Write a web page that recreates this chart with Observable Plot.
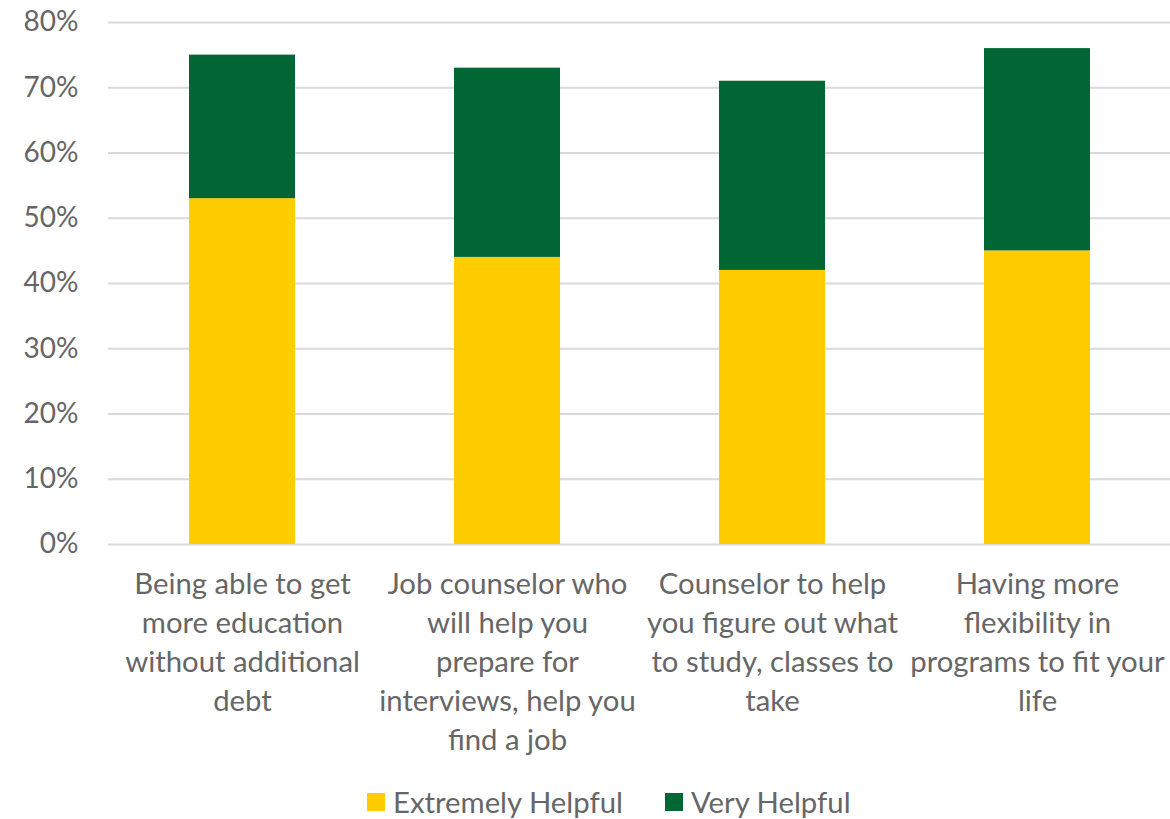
<!DOCTYPE html>
<html>
<head>
<meta charset="utf-8">
<script src="https://cdn.jsdelivr.net/npm/d3@7"></script>
<script src="https://cdn.jsdelivr.net/npm/@observablehq/plot@0.6"></script>
<style>
  body { margin: 0; background: #fff; font-family: Lato, "Open Sans", sans-serif; }
  #legend { display: flex; align-items: center; font-size: 29.3px; color: #666; padding-left: 367px; margin-top: 14px; }
  .item { display: flex; align-items: center; margin-right: 42px; }
  .sw { width: 18px; height: 18px; margin-right: 8px; }
</style>
</head>
<body>
<div id="chart"></div>
<script>
const categories = [
  "Being able to get\nmore education\nwithout additional\ndebt",
  "Job counselor who\nwill help you\nprepare for\ninterviews, help you\nfind a job",
  "Counselor to help\nyou figure out what\nto study, classes to\ntake",
  "Having more\nflexibility in\nprograms to fit your\nlife"
];
const seriesNames = ["Extremely Helpful", "Very Helpful"];
const extremelyHelpful = [53, 44, 42, 45];
const veryHelpful = [22, 29, 29, 31];
const colors = ["#FFCC00", "#006633"];
const yTicks = [0, 10, 20, 30, 40, 50, 60, 70, 80];

const data = [];
categories.forEach((c, i) => {
  data.push({cat: c, series: seriesNames[0], value: extremelyHelpful[i]});
  data.push({cat: c, series: seriesNames[1], value: veryHelpful[i]});
});

const plot = Plot.plot({
  width: 1170,
  height: 770,
  marginTop: 22,
  marginBottom: 226,
  marginLeft: 108,
  marginRight: 0,
  style: {fontFamily: "Lato, sans-serif", fontSize: "28px", color: "#666"},
  x: {domain: categories, padding: 0.6, paddingOuter: 0.3, label: null},
  y: {domain: [0, 80], label: null},
  color: {domain: seriesNames, range: colors},
  marks: [
    Plot.gridY(yTicks, {stroke: "#d9d9d9", strokeOpacity: 1, strokeWidth: 2}),
    Plot.barY(data, {x: "cat", y: "value", fill: "series", order: seriesNames}),
    Plot.axisY({ticks: yTicks, tickSize: 0, tickPadding: 30, tickFormat: d => d + "%", fill: "#666"}),
    Plot.axisX({tickSize: 0, tickPadding: 22, lineHeight: 1.33, fontSize: 29.3, fill: "#666"})
  ]
});
document.getElementById("chart").appendChild(plot);

const legend = document.createElement("div");
legend.id = "legend";
seriesNames.forEach((s, i) => {
  const it = document.createElement("div");
  it.className = "item";
  const sw = document.createElement("div");
  sw.className = "sw";
  sw.style.background = colors[i];
  const t = document.createElement("span");
  t.textContent = s;
  it.appendChild(sw);
  it.appendChild(t);
  legend.appendChild(it);
});
document.body.appendChild(legend);
</script>
</body>
</html>
